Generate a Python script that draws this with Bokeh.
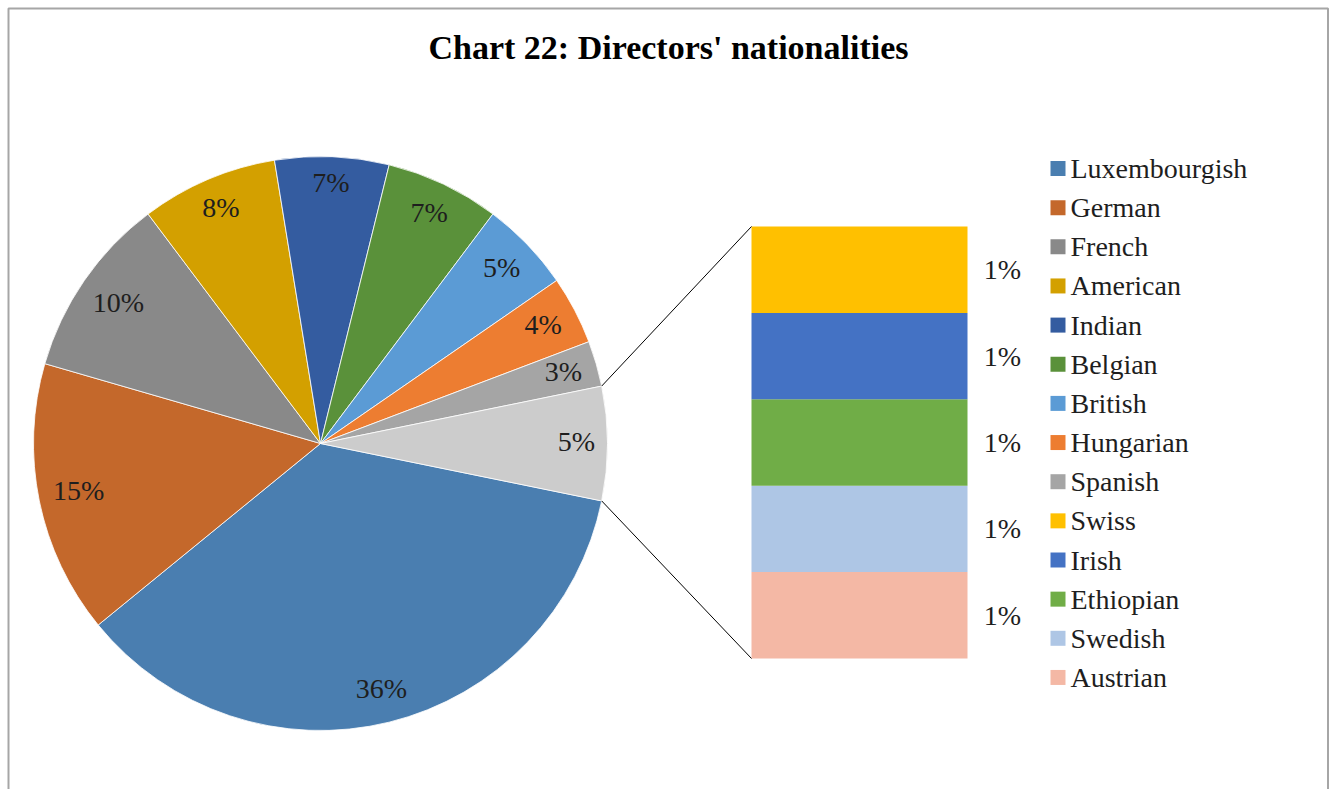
import numpy as np
from bokeh.plotting import figure
from bokeh.models import Range1d, ColumnDataSource
from bokeh.core.properties import value
from bokeh.embed import file_html
from bokeh.resources import INLINE

# ---------------- data ----------------
title_text = "Chart 22: Directors' nationalities"

main_categories = ["Luxembourgish", "German", "French", "American", "Indian",
                   "Belgian", "British", "Hungarian", "Spanish"]
main_counts = [28, 12, 8, 6, 5, 5, 4, 3, 2]
main_labels = ["36%", "15%", "10%", "8%", "7%", "7%", "5%", "4%", "3%"]
main_colors = ["#4A7EB0", "#C4682B", "#898989", "#D3A000", "#345CA0",
               "#5A913A", "#5B9BD5", "#ED7D31", "#A5A5A5"]

other_label = "5%"
other_color = "#CCCCCC"

other_categories = ["Swiss", "Irish", "Ethiopian", "Swedish", "Austrian"]
other_counts = [1, 1, 1, 1, 1]
other_labels = ["1%", "1%", "1%", "1%", "1%"]
other_colors = ["#FFC000", "#4472C4", "#70AD47", "#AEC6E5", "#F4B8A5"]

# ---------------- layout (page pixels) ----------------
W, H = 1329, 789
FONT = "Liberation Serif"


def Y(page_y):
    return H - page_y


CX, CY, R = 320, Y(443), 287
LABEL_PAD, LABEL_H = 13, 28
BAR_X0, BAR_X1 = 751, 967
BAR_TOP, BAR_BOT = 226, 658
BAR_LABEL_X = 1002
LEG_SQ_X, LEG_TXT_X = 1057.5, 1070
LEG_Y0, LEG_STEP = 168, 39.15

p = figure(width=W, height=H, x_range=Range1d(0, W), y_range=Range1d(0, H),
           x_axis_type=None, y_axis_type=None, toolbar_location=None,
           output_backend="svg", min_border=0)
p.outline_line_color = None
p.background_fill_color = "white"
p.border_fill_color = "white"

# chart border (left, top, right)
p.line(x=[8, 8, 1327.5, 1327.5], y=[0, Y(8), Y(8), 0], line_color="#A6A6A6", line_width=2)

# ---------------- pie ----------------
total = sum(main_counts) + sum(other_counts)
other_ang = 2 * np.pi * sum(other_counts) / total
fr = np.array(main_counts) / total * 2 * np.pi
cum = np.concatenate([[0], np.cumsum(fr)[:-1]])
starts_cw = -other_ang / 2 - cum          # clockwise start of each slice
ends_cw = starts_cw - fr
mids = (starts_cw + ends_cw) / 2

src = ColumnDataSource(dict(start=ends_cw, end=starts_cw, color=main_colors,
                            name=main_categories))
p.wedge(x=CX, y=CY, radius=R, start_angle="start", end_angle="end",
        fill_color="color", line_color="white", line_width=0.8, source=src)
p.wedge(x=CX, y=CY, radius=R, start_angle=-other_ang / 2, end_angle=other_ang / 2,
        fill_color=other_color, line_color="white", line_width=0.8)

# "inside end" labels: the label box sits just inside the rim
all_labels = main_labels + [other_label]
all_mids = np.concatenate([mids, [0.0]])
lw = np.array([14 * len(s) + 8 for s in all_labels])
ext = lw / 2 * np.abs(np.cos(all_mids)) + LABEL_H / 2 * np.abs(np.sin(all_mids))
lr = R - LABEL_PAD - ext
p.text(x=CX + lr * np.cos(all_mids), y=CY + lr * np.sin(all_mids),
       text=all_labels, text_font=value(FONT), y_offset=-2,
       text_font_size=value("28px"), text_align="center", text_baseline="middle",
       text_color="#1E1E1E")

# ---------------- secondary bar ----------------
n_other = sum(other_counts)
span_px = BAR_BOT - BAR_TOP
unit = span_px / n_other  # px per count
# extra range so that count 0 -> bar bottom, n_other -> bar top
lo = -Y(BAR_BOT) / unit
hi = lo + H / unit
p.extra_y_ranges = {"bar": Range1d(lo, hi)}

rev_counts = other_counts[::-1]
bottoms = np.concatenate([[0], np.cumsum(rev_counts)[:-1]])
tops = np.cumsum(rev_counts)
bsrc = ColumnDataSource(dict(bottom=bottoms, top=tops, color=other_colors[::-1],
                             mid=(bottoms + tops) / 2, label=other_labels[::-1]))
p.vbar(x=(BAR_X0 + BAR_X1) / 2, width=BAR_X1 - BAR_X0, bottom="bottom", top="top",
       fill_color="color", line_color=None, y_range_name="bar", source=bsrc)
p.text(x=BAR_LABEL_X, y="mid", text="label", y_range_name="bar", source=bsrc,
       text_font=value(FONT), text_font_size=value("28px"), text_align="center",
       text_baseline="middle", text_color="#1E1E1E")

# connector lines
a_top, a_bot = other_ang / 2, -other_ang / 2
p.line(x=[CX + R * np.cos(a_top), BAR_X0], y=[CY + R * np.sin(a_top), Y(BAR_TOP)],
       line_color="black", line_width=1)
p.line(x=[CX + R * np.cos(a_bot), BAR_X0], y=[CY + R * np.sin(a_bot), Y(BAR_BOT)],
       line_color="black", line_width=1)

# ---------------- legend ----------------
leg_names = main_categories + other_categories
leg_colors = main_colors + other_colors
leg_y = [Y(LEG_Y0 + i * LEG_STEP) for i in range(len(leg_names))]
p.scatter(x=LEG_SQ_X, y=leg_y, marker="square", size=15, fill_color=leg_colors,
          line_color=None)
p.text(x=LEG_TXT_X, y=leg_y, text=leg_names, text_font=value(FONT),
       text_font_size=value("28px"), text_align="left", text_baseline="middle",
       text_color="#1E1E1E")

# ---------------- title ----------------
p.text(x=[668], y=[Y(47)], text=[title_text], text_font=value(FONT),
       text_font_size=value("34px"), text_font_style="bold", text_align="center",
       text_baseline="middle", text_color="black")

open("out.html", "w").write(file_html(p, INLINE))
